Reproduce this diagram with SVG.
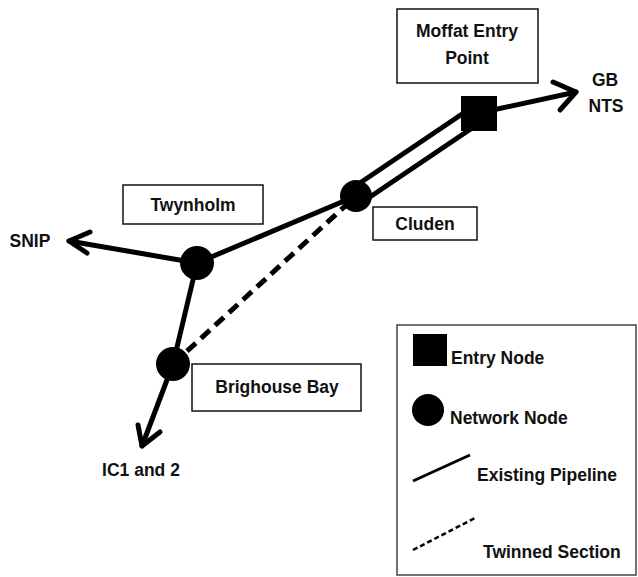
<svg xmlns="http://www.w3.org/2000/svg" width="638" height="577" viewBox="0 0 638 577">
<style>
text{font-family:"Liberation Sans",Arial,sans-serif;font-weight:bold;font-size:17.5px;fill:#111}
.box{fill:#fff;stroke:#111;stroke-width:1.5}
.pipe{stroke:#000;stroke-width:5;fill:none;stroke-linecap:round}
.twin{stroke:#000;stroke-width:5;fill:none;stroke-dasharray:12 7}
.arr{stroke:#000;stroke-width:5;fill:none;stroke-linecap:round;stroke-linejoin:round}
.node{fill:#000}
.c{text-anchor:middle}
</style>
<rect width="638" height="577" fill="#fff"/>
<g id="connectors">
<line class="pipe" x1="197" y1="263" x2="356" y2="196"/>
<line class="pipe" x1="197" y1="263" x2="173" y2="364"/>
<line class="twin" x1="173" y1="364" x2="356" y2="196"/>
<line class="pipe" x1="351" y1="189" x2="474" y2="106"/>
<line class="pipe" x1="361" y1="203" x2="484" y2="120"/>
<line class="arr" x1="479" y1="113" x2="576" y2="92"/>
<polyline class="arr" points="553,82 576,92 560,110"/>
<line class="arr" x1="197" y1="263" x2="69" y2="241"/>
<polyline class="arr" points="90,232 69,241 87,253"/>
<line class="arr" x1="173" y1="364" x2="142" y2="446"/>
<polyline class="arr" points="138,425 142,446 160,432"/>
</g>
<g id="moffat">
<rect class="box" x="397" y="9" width="141" height="74"/>
<text class="c" x="467" y="37">Moffat Entry</text>
<text class="c" x="467" y="64">Point</text>
<rect class="node" x="461" y="96" width="36" height="35"/>
</g>
<g id="cluden">
<circle class="node" cx="356" cy="196" r="16"/>
<rect class="box" x="373" y="207" width="104" height="33"/>
<text class="c" x="425" y="230">Cluden</text>
</g>
<g id="twynholm">
<circle class="node" cx="197" cy="263" r="17"/>
<rect class="box" x="123" y="185" width="140" height="39"/>
<text class="c" x="193" y="211">Twynholm</text>
</g>
<g id="brighouse">
<circle class="node" cx="173" cy="364" r="17"/>
<rect class="box" x="192" y="364" width="169" height="47"/>
<text class="c" x="277" y="393">Brighouse Bay</text>
</g>
<g id="gbnts">
<text class="c" x="605" y="86">GB</text>
<text class="c" x="606" y="112">NTS</text>
</g>
<g id="snip">
<text class="c" x="30" y="247">SNIP</text>
</g>
<g id="ic12">
<text class="c" x="141" y="476">IC1 and 2</text>
</g>
<g id="legend">
<rect x="397" y="325" width="239" height="250" fill="#fff" stroke="#444" stroke-width="1.5"/>
<rect class="node" x="413" y="334" width="34" height="32"/>
<text x="451" y="364">Entry Node</text>
<circle class="node" cx="428" cy="410" r="16"/>
<text x="450" y="424">Network Node</text>
<line x1="413" y1="481" x2="470" y2="455" stroke="#000" stroke-width="3"/>
<text x="477" y="481">Existing Pipeline</text>
<line x1="413" y1="550" x2="475" y2="518" stroke="#000" stroke-width="2.5" stroke-dasharray="5 3"/>
<text x="483" y="558">Twinned Section</text>
</g>
</svg>
